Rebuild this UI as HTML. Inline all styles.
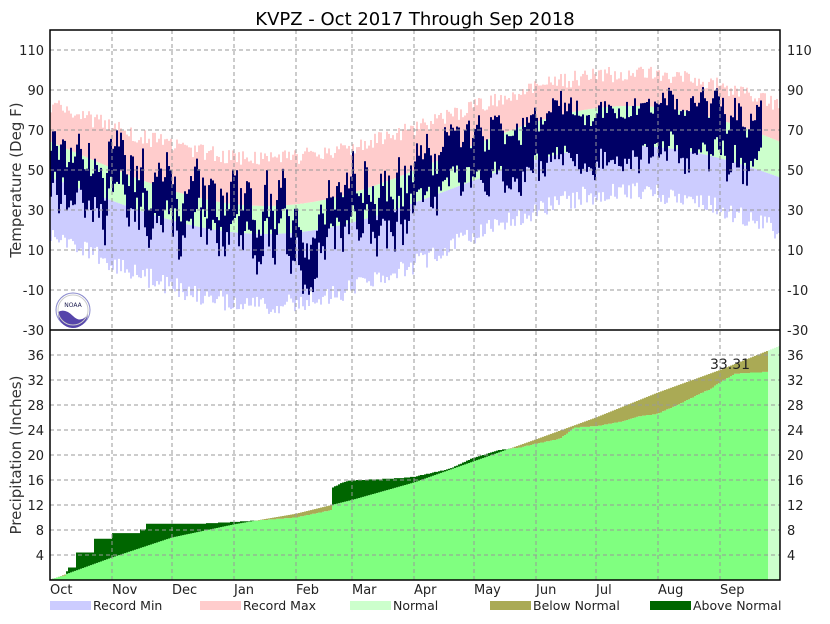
<!DOCTYPE html>
<html><head><meta charset="utf-8"><style>
body{margin:0;background:#fff;font-family:"DejaVu Sans","Liberation Sans",sans-serif}
svg text{font-family:"DejaVu Sans","Liberation Sans",sans-serif}
</style></head><body>
<svg id="s" width="830" height="620" xmlns="http://www.w3.org/2000/svg">
<rect width="830" height="620" fill="#fff"/>
<g id="temp"></g><g id="prec"></g><g id="grid"></g>
<text x="415" y="25" font-size="18" text-anchor="middle">KVPZ - Oct 2017 Through Sep 2018</text>
<text transform="translate(21,180) rotate(-90)" font-size="15" text-anchor="middle" fill="#333">Temperature (Deg F)</text>
<text transform="translate(21,455) rotate(-90)" font-size="15" text-anchor="middle" fill="#333">Precipitation (Inches)</text>
<text x="730" y="369" font-size="14" text-anchor="middle" fill="#222">33.31</text>
<g font-size="13" fill="#222">
<text x="50" y="594">Oct</text><text x="112" y="594">Nov</text><text x="172" y="594">Dec</text><text x="234" y="594">Jan</text><text x="296" y="594">Feb</text><text x="352" y="594">Mar</text><text x="414" y="594">Apr</text><text x="474" y="594">May</text><text x="536" y="594">Jun</text><text x="596" y="594">Jul</text><text x="658" y="594">Aug</text><text x="720" y="594">Sep</text>
</g>
<g font-size="12.5" fill="#222">
<rect x="50" y="601" width="41" height="9" fill="#ccccff"/><text x="93" y="610">Record Min</text>
<rect x="200" y="601" width="41" height="9" fill="#ffcccc"/><text x="243" y="610">Record Max</text>
<rect x="350" y="601" width="41" height="9" fill="#ccffcc"/><text x="393" y="610">Normal</text>
<rect x="490" y="601" width="41" height="9" fill="#aaaa55"/><text x="533" y="610">Below Normal</text>
<rect x="650" y="601" width="41" height="9" fill="#006600"/><text x="693" y="610">Above Normal</text>
</g>
<g transform="translate(73,310)">
<circle r="17" fill="#fff" stroke="#8888cc" stroke-width="1"/>
<path d="M-15,2 Q-8,-2 0,6 Q8,14 15,4 A15,15 0 0 1 -15,2Z" fill="#5544aa"/>
<circle r="15" fill="none" stroke="#ccc" stroke-width="1"/>
<text y="-3" font-size="6" text-anchor="middle" fill="#225">NOAA</text>
</g>
</svg>
<script>
var NS="http://www.w3.org/2000/svg";
function el(p,t,a){var e=document.createElementNS(NS,t);for(var k in a)e.setAttribute(k,a[k]);p.appendChild(e);return e;}
var T=document.getElementById("temp"),P=document.getElementById("prec"),G=document.getElementById("grid");
var seed=7;function rnd(){seed=(seed*16807)%2147483647;return seed/2147483647;}
function ty(t){return 330-(t+30)*2;}
function py(p){return 580-p*6.25;}
var N=365;
function season(d){return Math.cos((d-290)/365*2*Math.PI);}
var anom=0;
for(var d=0;d<N;d++){
 var x=50+d*2, s=season(d);
 var nh=57+25*s, nl=40+22*s;
 var w=(1-s)/2; // winter factor 0..1
 var rmax=nh+12+8*w+rnd()*8, rmin=nl-18-12*w-rnd()*10;
 el(T,"rect",{x:x,y:ty(rmax),width:2,height:ty(nh)-ty(rmax),fill:"#ffcccc"});
 el(T,"rect",{x:x,y:ty(nh),width:2,height:ty(nl)-ty(nh),fill:"#ccffcc"});
 el(T,"rect",{x:x,y:ty(nl),width:2,height:ty(rmin)-ty(nl),fill:"#ccccff"});
 if(d<356){
  var amp=8+14*w;
  anom=anom*0.6+(rnd()-0.5)*amp*1.3;
  var hi=nh+anom+(rnd()-0.3)*8, lo=nl+anom-rnd()*8;
  if(lo>hi-6)lo=hi-6;
  el(T,"rect",{x:x,y:ty(hi),width:2,height:ty(lo)-ty(hi),fill:"#000066"});
 }
}
function interp(pts,x){for(var i=1;i<pts.length;i++){if(x<=pts[i][0]){var a=pts[i-1],b=pts[i];return a[1]+(b[1]-a[1])*(x-a[0])/(b[0]-a[0]);}}return pts[pts.length-1][1];}
var normPts=[[50,0],[112,3.6],[172,6.8],[234,8.9],[296,10.6],[352,12.8],[414,15.6],[474,19],[536,22.5],[596,26],[658,30],[720,33.6],[782,37.6]];
var obsPts=[[50,0],[58,0.5],[66,0.7],[68,2],[75,2],[76,4.4],[93,4.4],[94,6.6],[112,6.6],[113,7.5],[139,7.5],[140,8.1],[145,8.1],[146,9],[200,9],[235,9.3],[265,9.6],[296,10],[332,11.2],[333,14.8],[340,15.4],[350,15.9],[400,16.3],[414,16.5],[450,17.8],[474,19.6],[500,20.8],[520,21.2],[536,21.8],[560,22.6],[575,24.4],[596,24.6],[620,25.3],[640,26.2],[658,26.6],[680,28.2],[700,29.8],[710,30.5],[720,31.6],[735,33.0],[768,33.31]];
for(var x=50;x<780;x+=2){
 var n=interp(normPts,x+1);
 if(x>=768){el(P,"rect",{x:x,y:py(n),width:2,height:580-py(n),fill:"#ccffcc"});continue;}
 var o=Math.round(interp(obsPts,x+1)*10)/10;
 var lo=Math.min(n,o),hi=Math.max(n,o);
 el(P,"rect",{x:x,y:py(lo),width:2,height:580-py(lo),fill:"#80ff80"});
 el(P,"rect",{x:x,y:py(hi),width:2,height:py(lo)-py(hi),fill:o>n?"#006600":"#aaaa55"});
}
var months=[112,172,234,296,352,414,474,536,596,658,720];
months.forEach(function(x){el(G,"line",{x1:x,y1:30,x2:x,y2:580,stroke:"#999","stroke-dasharray":"4,3"});});
[110,90,70,50,30,10,-10].forEach(function(t){var y=ty(t);
 el(G,"line",{x1:50,y1:y,x2:780,y2:y,stroke:"#999","stroke-dasharray":"4,3"});
 var a=el(G,"text",{x:44,y:y+5,"font-size":13,"text-anchor":"end",fill:"#222"});a.textContent=t;
 var b=el(G,"text",{x:787,y:y+5,"font-size":13,fill:"#222"});b.textContent=t;});
var a=el(G,"text",{x:44,y:335,"font-size":13,"text-anchor":"end",fill:"#222"});a.textContent=-30;
var b=el(G,"text",{x:787,y:335,"font-size":13,fill:"#222"});b.textContent=-30;
[36,32,28,24,20,16,12,8,4].forEach(function(p){var y=py(p);
 el(G,"line",{x1:50,y1:y,x2:780,y2:y,stroke:"#999","stroke-dasharray":"4,3"});
 var a=el(G,"text",{x:44,y:y+5,"font-size":13,"text-anchor":"end",fill:"#222"});a.textContent=p;
 var b=el(G,"text",{x:787,y:y+5,"font-size":13,fill:"#222"});b.textContent=p;});
el(G,"rect",{x:50,y:30,width:730,height:550,fill:"none",stroke:"#000","stroke-width":1.5});
el(G,"line",{x1:50,y1:330,x2:780,y2:330,stroke:"#000","stroke-width":1.5});
</script>
</body></html>
